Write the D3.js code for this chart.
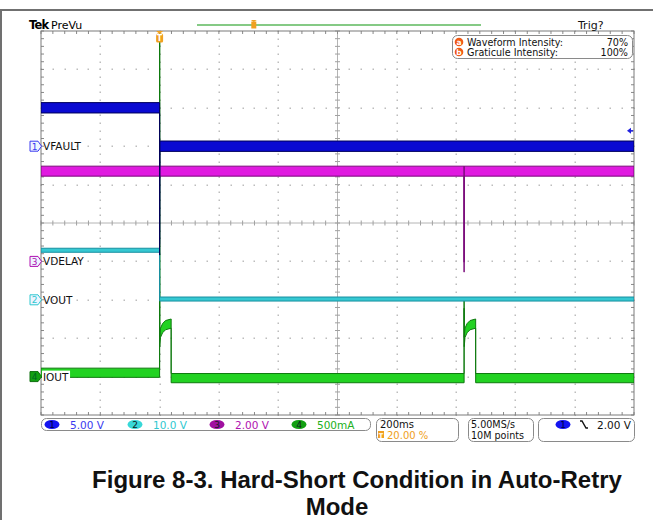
<!DOCTYPE html>
<html>
<head>
<meta charset="utf-8">
<script src="https://cdn.jsdelivr.net/npm/d3@7"></script>
<style>
  body { margin: 0; background: #fff; }
  svg { display: block; }
  .ui { font-family: "DejaVu Sans", sans-serif; }
</style>
</head>
<body>
<svg id="chart" width="653" height="520"></svg>
<script>
// ---- Acquisition settings ----
const timeDomain = [-400, 1600];          // ms, 200 ms/div, trigger at 20 %
const triggerLevel = 2.0;                 // V on channel 1
const triggerPercent = 20.0;

// ---- Channel settings ----
const chNames   = ["VFAULT", "VOUT", "VDELAY", "IOUT"];
const chNumbers = [1, 2, 3, 4];
const chScales  = [5.0, 10.0, 2.0, 0.5];   // units per division
const chScaleLabels = ["5.00 V", "10.0 V", "2.00 V", "500mA"];
const chOffsets = [2, -2, -1, -4];         // ground position, divisions from centre
const chNoise   = [1.35, 1.05, 0.52, 0.12];// peak-to-peak noise band, channel units

// ---- Waveforms (time in ms, value in channel units) ----
const vfaultT = [-400, 0, 0, 0.6, 1600];
const vfaultV = [5.0, 5.0, -13.5, 0.0, 0.0];

const voutT = [-400, 0, 0, 1600];
const voutV = [12.9, 12.9, 0.2, 0.2];

const vdelayT = [-400, 1027, 1027, 1027, 1600];
const vdelayV = [4.7, 4.7, -0.3, 4.7, 4.7];

const ioutT = [-400, 0, 0, 0.4, 3, 10, 20, 39, 39, 1027, 1027, 1027.4, 1030, 1037, 1047, 1066, 1066, 1600];
const ioutV = [0.05, 0.05, 5.0, 0.45, 0.57, 0.63, 0.67, 0.69, -0.02, -0.02, 0.95, 0.45, 0.57, 0.63, 0.67, 0.69, -0.02, -0.02];

const seriesT = [vfaultT, voutT, vdelayT, ioutT];
const seriesV = [vfaultV, voutV, vdelayV, ioutV];

// ---- Status read-outs ----
const timebaseLabel = "200ms";
const sampleRateLabel = "5.00MS/s";
const recordLabel = "10M points";
const intensityLabels = ["Waveform Intensity:", "Graticule Intensity:"];
const intensityValues = ["70%", "100%"];
const captionLines = ["Figure 8-3. Hard-Short Condition in Auto-Retry", "Mode"];

// ---- Styling ----
const chFill  = ["#0a0ad2", "#36c8d2", "#e01ae0", "#22d222"];
const chEdge  = ["#00005a", "#1890a0", "#7a0a7a", "#0e7a0e"];
const chText  = ["#3a3af0", "#30c8d0", "#b010b0", "#20b020"];
const chBadge = ["#1414f0", "#38d8d8", "#a010a0", "#12a012"];
const orange = "#f0a020";

const svg = d3.select("#chart");
const L = 41, R = 634, T = 31, B = 415;
const nx = 10, ny = 10, minor = 5;

const x = d3.scaleLinear().domain(timeDomain).range([L, R]);
const xDiv = d3.scaleLinear().domain([0, nx]).range([L, R]);
const yDiv = d3.scaleLinear().domain([-ny / 2, ny / 2]).range([B, T]);
const yCh = i => v => yDiv(v / chScales[i] + chOffsets[i]);

// ---- Page frame ----
svg.append("line").attr("x1", 0).attr("x2", 653).attr("y1", 10).attr("y2", 10)
  .attr("stroke", "#707070").attr("stroke-width", 2);
svg.append("line").attr("x1", 1).attr("x2", 1).attr("y1", 9).attr("y2", 520)
  .attr("stroke", "#707070").attr("stroke-width", 2);

// ---- Graticule ----
const grat = svg.append("g");
const dotColor = "#bdbdbd";
for (let i = 1; i < nx; i++) {
  if (i === nx / 2) continue;
  for (let j = 0; j <= ny * minor; j++) {
    grat.append("rect").attr("x", Math.round(xDiv(i)) - 0.5).attr("y", Math.round(yDiv(-ny / 2 + j / minor)) - 0.5)
      .attr("width", 1.5).attr("height", 1.5).attr("fill", dotColor);
  }
}
for (let k = 1; k < ny; k++) {
  const v = -ny / 2 + k;
  if (v === 0) continue;
  for (let j = 0; j <= nx * minor; j++) {
    grat.append("rect").attr("x", Math.round(xDiv(j / minor)) - 0.5).attr("y", Math.round(yDiv(v)) - 0.5)
      .attr("width", 1.5).attr("height", 1.5).attr("fill", dotColor);
  }
}
// centre cross with minor ticks
const cx = xDiv(nx / 2), cy = yDiv(0);
grat.append("line").attr("x1", L).attr("x2", R).attr("y1", cy).attr("y2", cy).attr("stroke", "#b4b4b4");
grat.append("line").attr("x1", cx).attr("x2", cx).attr("y1", T).attr("y2", B).attr("stroke", "#b4b4b4");
for (let j = 0; j <= nx * minor; j++) {
  const xx = xDiv(j / minor);
  grat.append("line").attr("x1", xx).attr("x2", xx).attr("y1", cy - 2.5).attr("y2", cy + 2.5).attr("stroke", "#a0a0a0");
  grat.append("line").attr("x1", xx).attr("x2", xx).attr("y1", T).attr("y2", T + 3).attr("stroke", "#888");
  grat.append("line").attr("x1", xx).attr("x2", xx).attr("y1", B - 3).attr("y2", B).attr("stroke", "#888");
}
for (let j = 0; j <= ny * minor; j++) {
  const yy = yDiv(-ny / 2 + j / minor);
  grat.append("line").attr("x1", cx - 2.5).attr("x2", cx + 2.5).attr("y1", yy).attr("y2", yy).attr("stroke", "#a0a0a0");
  grat.append("line").attr("x1", L).attr("x2", L + 3).attr("y1", yy).attr("y2", yy).attr("stroke", "#888");
  grat.append("line").attr("x1", R - 3).attr("x2", R).attr("y1", yy).attr("y2", yy).attr("stroke", "#888");
}
grat.append("rect").attr("x", L).attr("y", T).attr("width", R - L).attr("height", B - T)
  .attr("fill", "none").attr("stroke", "#7a7a7a");

// ---- Waveforms ----
svg.append("clipPath").attr("id", "plotClip").append("rect")
  .attr("x", L).attr("y", T).attr("width", R - L).attr("height", B - T);
const traces = svg.append("g").attr("clip-path", "url(#plotClip)");

[3, 1, 2, 0].forEach(i => {
  const y = yCh(i);
  const pts = seriesT[i].map((t, k) => ({ t, v: seriesV[i][k] }));
  const half = chNoise[i] / 2;
  const area = d3.area().x(d => x(d.t)).y0(d => y(d.v - half)).y1(d => y(d.v + half));
  traces.append("path").datum(pts).attr("d", area)
    .attr("fill", chFill[i]).attr("stroke", chEdge[i]).attr("stroke-width", 1)
    .attr("stroke-linejoin", "miter");
});

// ---- Trigger markers ----
const tx = x(0);
const trig = svg.append("g");
trig.append("path").attr("d", `M${tx - 3.5},${T} L${tx + 3.5},${T} L${tx},${T + 3} Z`).attr("fill", orange);
trig.append("rect").attr("x", tx - 3.5).attr("y", T + 2.5).attr("width", 7).attr("height", 9).attr("rx", 1.5).attr("fill", orange);
trig.append("text").attr("class", "ui").attr("x", tx).attr("y", T + 10).attr("text-anchor", "middle")
  .attr("font-size", 8).attr("font-weight", "bold").attr("fill", "#fff").text("T");

// trigger level arrow on the right edge
const ty = yCh(0)(triggerLevel);
svg.append("path").attr("d", `M${R - 7},${ty} L${R - 3},${ty - 3} L${R - 3},${ty + 3} Z`).attr("fill", "#2020e0");
svg.append("line").attr("x1", R - 4).attr("x2", R - 1).attr("y1", ty).attr("y2", ty).attr("stroke", "#2020e0").attr("stroke-width", 1.5);

// ---- Header ----
const head = svg.append("g").attr("class", "ui");
head.append("text").attr("x", 29).attr("y", 29).attr("font-size", 11.5).attr("font-weight", "bold")
  .attr("letter-spacing", -0.8).attr("fill", "#000").text("Tek");
head.append("text").attr("x", 51).attr("y", 29).attr("font-size", 11).attr("fill", "#000").text("PreVu");
// record overview bar
const rec = d3.scaleLinear().domain([0, 100]).range([197, 481]);
head.append("line").attr("x1", rec(0)).attr("x2", rec(100)).attr("y1", 25).attr("y2", 25)
  .attr("stroke", "#5cb85c").attr("stroke-width", 1.5);
const rx = rec(triggerPercent);
head.append("path").attr("d", `M${rx - 3},${20} L${rx + 3},${20} L${rx},${22} Z`).attr("fill", orange);
head.append("rect").attr("x", rx - 2.5).attr("y", 21.5).attr("width", 5).attr("height", 7).attr("fill", orange);
head.append("text").attr("x", 578).attr("y", 29).attr("font-size", 11).attr("fill", "#111").text("Trig?");

// intensity read-out box
const ib = svg.append("g").attr("class", "ui");
ib.append("rect").attr("x", 452.5).attr("y", 35.5).attr("width", 180).attr("height", 23).attr("rx", 5)
  .attr("fill", "#fff").attr("stroke", "#8a8a8a");
intensityLabels.forEach((lab, k) => {
  const yy = 42 + k * 10;
  ib.append("circle").attr("cx", 459).attr("cy", yy).attr("r", 4.3).attr("fill", "#f05a14");
  ib.append("text").attr("x", 459).attr("y", yy + 3).attr("text-anchor", "middle").attr("font-size", 7.5)
    .attr("font-weight", "bold").attr("fill", "#fff").text(k === 0 ? "a" : "b");
  ib.append("text").attr("x", 467).attr("y", yy + 3.5).attr("font-size", 9.6).attr("fill", "#111").text(lab);
  ib.append("text").attr("x", 628).attr("y", yy + 3.5).attr("text-anchor", "end").attr("font-size", 9.6)
    .attr("fill", "#111").text(intensityValues[k]);
});

// ---- Channel ground markers and names ----
const lab = svg.append("g").attr("class", "ui");
chNames.forEach((name, i) => {
  const gy = yDiv(chOffsets[i]);
  const filled = i === 3;
  lab.append("path").attr("d", `M30,${gy - 5} L38,${gy - 5} L41.5,${gy} L38,${gy + 5} L30,${gy + 5} Z`)
    .attr("fill", filled ? chBadge[i] : "#eef4ff").attr("stroke", filled ? "#0c6e0c" : chText[i]).attr("stroke-width", 1);
  lab.append("text").attr("x", 34.5).attr("y", gy + 3.5).attr("text-anchor", "middle").attr("font-size", 9)
    .attr("fill", filled ? "#062" : chText[i]).text(chNumbers[i]);
  const t = lab.append("text").attr("x", 43).attr("y", gy + 4).attr("font-size", 10.5).attr("fill", "#111").text(name);
  if (filled) {
    const bb = t.node().getBBox();
    lab.insert("rect", () => t.node()).attr("x", bb.x - 1).attr("y", bb.y).attr("width", bb.width + 2)
      .attr("height", bb.height).attr("fill", "#fff");
  }
});

// ---- Status bar ----
const st = svg.append("g").attr("class", "ui");
const box = (x0, x1, y0, y1) => st.append("rect").attr("x", x0 + 0.5).attr("y", y0 + 0.5)
  .attr("width", x1 - x0).attr("height", y1 - y0).attr("rx", 5).attr("fill", "#fff").attr("stroke", "#8a8a8a");
box(41, 370, 418, 430);
box(376, 458, 418, 441);
box(468, 533, 418, 441);
box(538, 634, 418, 441);

const chX = [52, 135, 217, 299];
chNumbers.forEach((n, i) => {
  st.append("ellipse").attr("cx", chX[i]).attr("cy", 424.5).attr("rx", 7.5).attr("ry", 4.5).attr("fill", chBadge[i]);
  st.append("text").attr("x", chX[i]).attr("y", 428).attr("text-anchor", "middle").attr("font-size", 9)
    .attr("fill", i === 0 ? "#000040" : "#102020").text(n);
  st.append("text").attr("x", chX[i] + 18).attr("y", 428.5).attr("font-size", 10.5).attr("fill", chText[i])
    .text(chScaleLabels[i]);
});
st.append("text").attr("x", 380).attr("y", 428).attr("font-size", 10).attr("fill", "#111").text(timebaseLabel);
st.append("rect").attr("x", 378).attr("y", 431).attr("width", 6).attr("height", 7).attr("fill", orange);
st.append("text").attr("x", 381).attr("y", 437.5).attr("text-anchor", "middle").attr("font-size", 6.5)
  .attr("font-weight", "bold").attr("fill", "#fff").text("T");
st.append("text").attr("x", 387).attr("y", 438.5).attr("font-size", 10).attr("fill", orange)
  .text(triggerPercent.toFixed(2) + " %");
st.append("text").attr("x", 471).attr("y", 428).attr("font-size", 9.6).attr("fill", "#111").text(sampleRateLabel);
st.append("text").attr("x", 471).attr("y", 438.5).attr("font-size", 9.6).attr("fill", "#111").text(recordLabel);
st.append("ellipse").attr("cx", 563).attr("cy", 424.5).attr("rx", 7.5).attr("ry", 4.5).attr("fill", chBadge[0]);
st.append("text").attr("x", 563).attr("y", 428).attr("text-anchor", "middle").attr("font-size", 9)
  .attr("fill", "#000040").text(chNumbers[0]);
st.append("path").attr("d", "M580,421 L582,421 L586,428 L588,428").attr("fill", "none")
  .attr("stroke", "#111").attr("stroke-width", 1.4);
st.append("text").attr("x", 631).attr("y", 428.5).attr("text-anchor", "end").attr("font-size", 10.5)
  .attr("fill", "#111").text(triggerLevel.toFixed(2) + " V");

// ---- Caption ----
const cap = svg.append("g").attr("font-family", "'Liberation Sans', Arial, sans-serif")
  .attr("font-weight", "bold").attr("font-size", 24).attr("fill", "#111").attr("text-anchor", "middle");
cap.append("text").attr("x", 357).attr("y", 488).text(captionLines[0]);
cap.append("text").attr("x", 337).attr("y", 514.5).text(captionLines[1]);
</script>
</body>
</html>
